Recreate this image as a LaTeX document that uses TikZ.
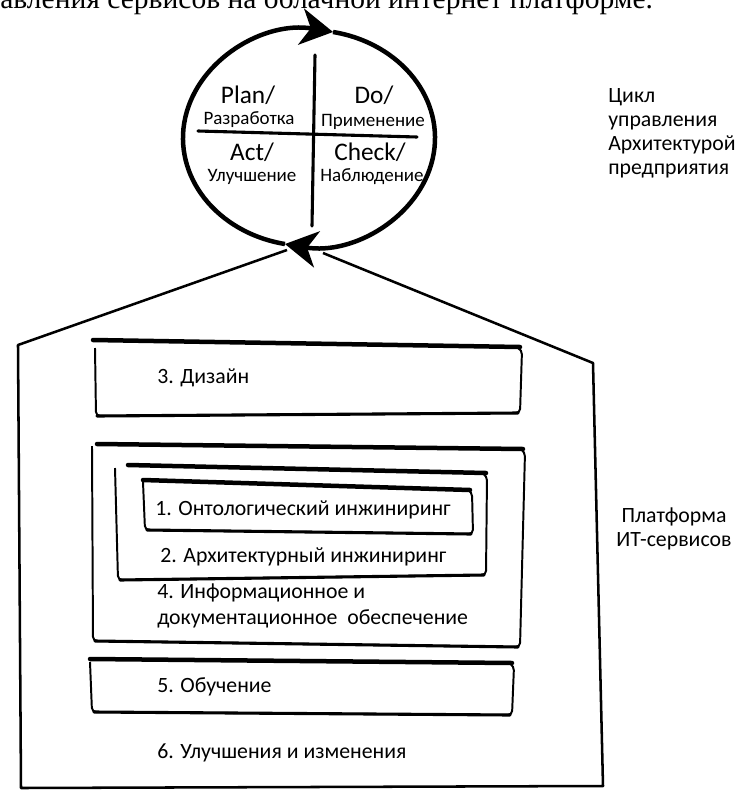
\documentclass[tikz,border=0pt]{standalone}
\usepackage{fontspec}
\setmainfont{Carlito}
\newfontfamily\titlefont{Liberation Serif}
\usetikzlibrary{arrows.meta,calc,positioning}

\begin{document}
\begin{tikzpicture}[
    x=0.025cm, y=-0.025cm,
    >={Stealth[length=23pt,width=26pt,inset=7pt]},
    cyclearrow/.style={line width=3.2pt,->},
    crossline/.style={line width=2.2pt,line cap=round},
    roof/.style={line width=1.8pt,line join=round},
    boxside/.style={line width=1.4pt,rounded corners=3pt},
    boxtop/.style={line width=3.2pt,line cap=round},
    boxbase/.style={line width=2.2pt,line cap=round},
    phase/.style={font=\fontsize{18}{20}\selectfont,inner sep=0pt},
    phasesub/.style={font=\fontsize{13.5}{15}\selectfont,inner sep=0pt},
    itemtext/.style={font=\fontsize{15.5}{17}\selectfont,anchor=west,inner sep=0pt,align=left}
]

\useasboundingbox (0,0) rectangle (739,790);

% Title (cut off by the page edge)
\node[anchor=base west,inner sep=0pt,font=\titlefont\fontsize{21}{24}\selectfont] (title)
    at (0,8) {авления сервисов на облачной интернет платформе.};

% ===== PDCA cycle =====
\coordinate (pdca) at (309,138);
\def\pdcarx{126}   % horizontal radius
\def\pdcary{108}   % vertical radius

% left half, arrow at the top
\draw[cyclearrow]
    ([shift={(101:126 and 108)}]pdca)
    arc[start angle=101,end angle=281,x radius=\pdcarx,y radius=\pdcary];

% right half, arrow at the bottom
\draw[cyclearrow]
    ([shift={(281:126 and 108)}]pdca)
    arc[start angle=281,end angle=461,x radius=\pdcarx,y radius=\pdcary];

% quadrants
\draw[crossline] (315,55) -- (312,226);
\draw[crossline] (198,131) -- (417,137);

\node[phase] (plan) at (248,95) {Plan/};
\node[phasesub] (plansub) at (249,120) {Разработка};
\node[phase] (do) at (374,95) {Do/};
\node[phasesub] (dosub) at (373,122) {Применение};
\node[phase] (act) at (252,152) {Act/};
\node[phasesub] (actsub) at (252,177) {Улучшение};
\node[phase] (check) at (370,152) {Check/};
\node[phasesub] (checksub) at (372,177) {Наблюдение};

\node[itemtext] (cyclenote) at (608,133)
    {Цикл\\управления\\Архитектурой\\предприятия};

% ===== Platform (house) =====
\coordinate (apexL) at (287,250);
\coordinate (apexR) at (323,253);
\coordinate (eaveL) at (18,345);
\coordinate (eaveR) at (593,363);
\coordinate (baseL) at (21,788);
\coordinate (baseR) at (603,786);

\draw[roof] (apexL) -- (eaveL) -- (baseL) -- (baseR) -- (eaveR) -- (apexR);

\node[itemtext,align=center,anchor=center] (platformnote) at (674,529)
    {Платформа\\ИТ-сервисов};

% 3. Design
\draw[boxtop] (93,340) -- (520,347);
\draw[boxside] (95,348) -- (96,416) -- (520,413) -- (522,350) -- (516,347);
\draw[boxbase] (97,416) -- (518,413);
\node[itemtext] (design) at (157,378) {3. Дизайн};

% 4. Information
\draw[boxtop] (97,444) -- (523,449);
\draw[boxside] (92,446) -- (93,641) -- (520,647) -- (525,452) -- (519,448);
\draw[boxbase] (95,641) -- (518,647);

% 2. Architecture
\draw[boxtop] (128,465) -- (486,473);
\draw[boxside] (115,468) -- (118,580) -- (486,575) -- (487,476) -- (482,473);
\draw[boxbase] (120,580) -- (484,575);

% 1. Ontology
\draw[boxtop] (143,480) -- (470,490);
\draw[boxside] (143,482) -- (145,530) -- (473,534) -- (472,492) -- (468,490);
\draw[boxbase] (147,530) -- (471,534);

\node[itemtext] (onto) at (155,510) {1. Онтологический инжиниринг};
\node[itemtext] (arch) at (160,557) {2. Архитектурный инжиниринг};
\node[itemtext,font=\fontsize{15.5}{18.5}\selectfont] (info) at (157,606)
    {4. Информационное и\\документационное\ \ обеспечение};

% 5. Training
\draw[boxtop] (90,659) -- (512,663);
\draw[boxside] (90,662) -- (92,712) -- (512,715) -- (514,666) -- (509,663);
\draw[boxbase] (94,712) -- (510,715);
\node[itemtext] (train) at (157,687) {5. Обучение};

% 6. Improvements
\node[itemtext] (improve) at (157,753) {6. Улучшения и изменения};

\end{tikzpicture}
\end{document}
